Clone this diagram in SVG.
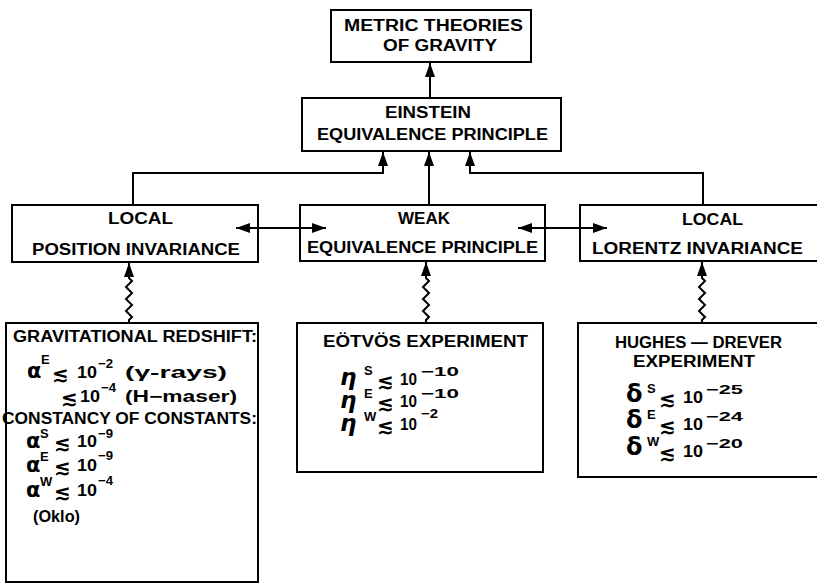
<svg xmlns="http://www.w3.org/2000/svg" width="817" height="585" viewBox="0 0 817 585">
<style>
  .box { fill: #fff; stroke: #000; stroke-width: 2; }
  .lbl { font-family: "Liberation Sans", Arial, sans-serif; font-size: 16px; font-weight: bold; fill: #000; }
  .gr { font-family: "DejaVu Sans", sans-serif; font-weight: bold; fill: #000; }
  .sup { font-family: "Liberation Sans", Arial, sans-serif; font-size: 13px; font-weight: bold; fill: #000; }
  .num { font-family: "Liberation Sans", Arial, sans-serif; font-size: 16px; font-weight: bold; fill: #000; }
  .le { font-family: "DejaVu Sans", sans-serif; font-size: 20px; font-weight: bold; fill: #000; }
  .conn { fill: none; stroke: #000; stroke-width: 2; }
</style>
<defs>
  <marker id="ah" viewBox="0 0 14 10" refX="14" refY="5" markerWidth="14" markerHeight="10" markerUnits="userSpaceOnUse" orient="auto-start-reverse">
    <path d="M0,0 L14,5 L0,10 z" fill="#000"/>
  </marker>
</defs>
<rect width="817" height="585" fill="#fff"/>

<g id="metric">
  <rect class="box" x="331" y="10" width="200" height="52"/>
  <text class="lbl" x="344" y="31" textLength="179" lengthAdjust="spacingAndGlyphs">METRIC THEORIES</text>
  <text class="lbl" x="383" y="51" textLength="114" lengthAdjust="spacingAndGlyphs">OF GRAVITY</text>
</g>

<g id="eep">
  <rect class="box" x="302" y="98" width="259" height="53"/>
  <text class="lbl" x="385" y="118" textLength="86" lengthAdjust="spacingAndGlyphs">EINSTEIN</text>
  <text class="lbl" x="317" y="140" textLength="231" lengthAdjust="spacingAndGlyphs">EQUIVALENCE PRINCIPLE</text>
</g>

<g id="lpi">
  <rect class="box" x="12" y="205" width="246" height="57"/>
  <text class="lbl" x="108" y="224" textLength="65" lengthAdjust="spacingAndGlyphs">LOCAL</text>
  <text class="lbl" x="32" y="255" textLength="208" lengthAdjust="spacingAndGlyphs">POSITION INVARIANCE</text>
</g>

<g id="wep">
  <rect class="box" x="300" y="205" width="245" height="56"/>
  <text class="lbl" x="398" y="224" textLength="52" lengthAdjust="spacingAndGlyphs">WEAK</text>
  <text class="lbl" x="307" y="253" textLength="231" lengthAdjust="spacingAndGlyphs">EQUIVALENCE PRINCIPLE</text>
</g>

<g id="lli">
  <rect class="box" x="580" y="205" width="245" height="56"/>
  <text class="lbl" x="682" y="225" textLength="61" lengthAdjust="spacingAndGlyphs">LOCAL</text>
  <text class="lbl" x="592" y="254" textLength="211" lengthAdjust="spacingAndGlyphs">LORENTZ INVARIANCE</text>
</g>

<g id="redshift">
  <rect class="box" x="6" y="323" width="252" height="259"/>
  <text class="lbl" x="13" y="342" textLength="244" lengthAdjust="spacingAndGlyphs">GRAVITATIONAL REDSHIFT:</text>
  <text class="gr" x="27" y="378" font-size="21">α</text>
  <text class="sup" x="41" y="364">E</text>
  <text class="le" x="52" y="381">≲</text>
  <text class="num" x="77" y="378" textLength="20" lengthAdjust="spacingAndGlyphs">10</text>
  <text class="sup" x="98" y="368" textLength="15" lengthAdjust="spacingAndGlyphs">−2</text>
  <text class="lbl" x="125" y="378" textLength="102" lengthAdjust="spacingAndGlyphs">(γ-rays)</text>
  <text class="le" x="61" y="405">≲</text>
  <text class="num" x="80" y="402" textLength="20" lengthAdjust="spacingAndGlyphs">10</text>
  <text class="sup" x="101" y="392" textLength="15" lengthAdjust="spacingAndGlyphs">−4</text>
  <text class="lbl" x="125" y="402" textLength="112" lengthAdjust="spacingAndGlyphs">(H−maser)</text>
  <text class="lbl" x="2" y="424" textLength="255" lengthAdjust="spacingAndGlyphs">CONSTANCY OF CONSTANTS:</text>
  <text class="gr" x="26" y="448" font-size="21">α</text>
  <text class="sup" x="40" y="438">S</text>
  <text class="le" x="54" y="450">≲</text>
  <text class="num" x="77" y="447" textLength="20" lengthAdjust="spacingAndGlyphs">10</text>
  <text class="sup" x="98" y="438" textLength="15" lengthAdjust="spacingAndGlyphs">−9</text>
  <text class="gr" x="26" y="472" font-size="21">α</text>
  <text class="sup" x="40" y="461">E</text>
  <text class="le" x="54" y="474">≲</text>
  <text class="num" x="77" y="471" textLength="20" lengthAdjust="spacingAndGlyphs">10</text>
  <text class="sup" x="98" y="460" textLength="15" lengthAdjust="spacingAndGlyphs">−9</text>
  <text class="gr" x="26" y="497" font-size="21">α</text>
  <text class="sup" x="40" y="486">W</text>
  <text class="le" x="54" y="499">≲</text>
  <text class="num" x="77" y="496" textLength="20" lengthAdjust="spacingAndGlyphs">10</text>
  <text class="sup" x="98" y="485" textLength="15" lengthAdjust="spacingAndGlyphs">−4</text>
  <text class="lbl" x="33" y="522" textLength="47" lengthAdjust="spacingAndGlyphs">(Oklo)</text>
</g>

<g id="eotvos">
  <rect class="box" x="297" y="323" width="246" height="149"/>
  <text class="lbl" x="323" y="347" textLength="205" lengthAdjust="spacingAndGlyphs">EÖTVÖS EXPERIMENT</text>
  <text class="gr" x="340" y="385" font-size="23" font-style="italic">η</text>
  <text class="sup" x="364" y="375">S</text>
  <text class="le" x="377" y="388">≲</text>
  <text class="num" x="400" y="385" textLength="17" lengthAdjust="spacingAndGlyphs">10</text>
  <text class="sup" x="421" y="376" textLength="38" lengthAdjust="spacingAndGlyphs">−10</text>
  <text class="gr" x="340" y="408" font-size="23" font-style="italic">η</text>
  <text class="sup" x="364" y="398">E</text>
  <text class="le" x="377" y="410">≲</text>
  <text class="num" x="400" y="407" textLength="17" lengthAdjust="spacingAndGlyphs">10</text>
  <text class="sup" x="421" y="398" textLength="38" lengthAdjust="spacingAndGlyphs">−10</text>
  <text class="gr" x="340" y="431" font-size="23" font-style="italic">η</text>
  <text class="sup" x="364" y="421">W</text>
  <text class="le" x="377" y="433">≲</text>
  <text class="num" x="400" y="430" textLength="17" lengthAdjust="spacingAndGlyphs">10</text>
  <text class="sup" x="421" y="418" textLength="17" lengthAdjust="spacingAndGlyphs">−2</text>
</g>

<g id="hughes">
  <rect class="box" x="578" y="323" width="245" height="154"/>
  <text class="lbl" x="615" y="348" textLength="167" lengthAdjust="spacingAndGlyphs">HUGHES — DREVER</text>
  <text class="lbl" x="633" y="367" textLength="122" lengthAdjust="spacingAndGlyphs">EXPERIMENT</text>
  <text class="gr" x="626" y="402" font-size="24">δ</text>
  <text class="sup" x="647" y="393">S</text>
  <text class="le" x="659" y="406">≲</text>
  <text class="num" x="683" y="403" textLength="20" lengthAdjust="spacingAndGlyphs">10</text>
  <text class="sup" x="706" y="394" textLength="37" lengthAdjust="spacingAndGlyphs">−25</text>
  <text class="gr" x="626" y="428" font-size="24">δ</text>
  <text class="sup" x="647" y="419">E</text>
  <text class="le" x="659" y="433">≲</text>
  <text class="num" x="683" y="430" textLength="20" lengthAdjust="spacingAndGlyphs">10</text>
  <text class="sup" x="706" y="421" textLength="37" lengthAdjust="spacingAndGlyphs">−24</text>
  <text class="gr" x="626" y="455" font-size="24">δ</text>
  <text class="sup" x="647" y="446">W</text>
  <text class="le" x="659" y="460">≲</text>
  <text class="num" x="683" y="457" textLength="20" lengthAdjust="spacingAndGlyphs">10</text>
  <text class="sup" x="706" y="448" textLength="37" lengthAdjust="spacingAndGlyphs">−20</text>
</g>

<g id="connectors">
  <path class="conn" d="M430,98 L430,63" marker-end="url(#ah)"/>
  <path class="conn" d="M133,205 L133,173 L383,173 L383,152" marker-end="url(#ah)"/>
  <path class="conn" d="M429,205 L429,152" marker-end="url(#ah)"/>
  <path class="conn" d="M703,205 L703,173 L470,173 L470,152" marker-end="url(#ah)"/>
  <path class="conn" d="M236,228 L326,228" marker-start="url(#ah)" marker-end="url(#ah)"/>
  <path class="conn" d="M518,228 L607,228" marker-start="url(#ah)" marker-end="url(#ah)"/>
  <path class="conn" d="M129,323 L129,320 L132,317 L126,311 L132,305 L126,299 L132,293 L126,287 L132,281 L129,278 L129,263" marker-end="url(#ah)"/>
  <path class="conn" d="M426,323 L426,320 L429,317 L423,311 L429,305 L423,299 L429,293 L423,287 L429,281 L426,278 L426,262" marker-end="url(#ah)"/>
  <path class="conn" d="M702,323 L702,320 L705,317 L699,311 L705,305 L699,299 L705,293 L699,287 L705,281 L702,278 L702,262" marker-end="url(#ah)"/>
</g>
</svg>
